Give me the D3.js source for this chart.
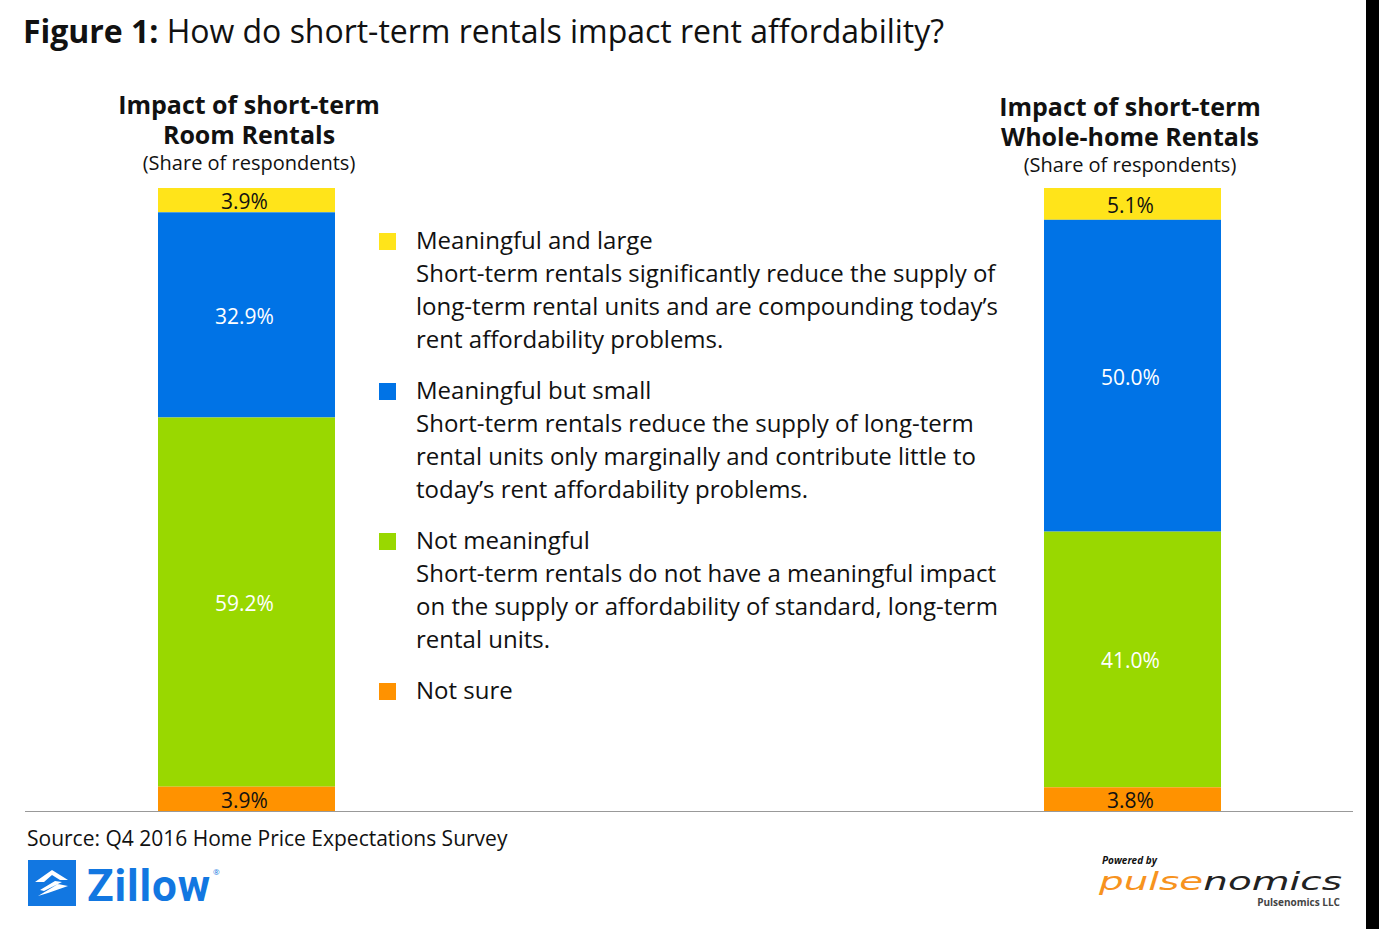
<!DOCTYPE html>
<html><head><meta charset="utf-8">
<script src="https://cdn.jsdelivr.net/npm/d3@7"></script>
<style>body{margin:0;background:#fff}svg{font-family:"Open Sans",sans-serif}</style>
</head><body><div id="chart"></div>
<script>
// data
var categories = ["Meaningful and large", "Meaningful but small", "Not meaningful", "Not sure"]
var colors = ["#FFE41A", "#0073E6", "#99D800", "#FF9200"]
var roomValues = [3.9, 32.9, 59.2, 3.9]
var wholeValues = [5.1, 50.0, 41.0, 3.8]
var descriptions = [
  ["Short-term rentals significantly reduce the supply of", "long-term rental units and are compounding today\u2019s", "rent affordability problems."],
  ["Short-term rentals reduce the supply of long-term", "rental units only marginally and contribute little to", "today\u2019s rent affordability problems."],
  ["Short-term rentals do not have a meaningful impact", "on the supply or affordability of standard, long-term", "rental units."],
  []
]

var width = 1379, height = 929
var svg = d3.select("#chart").append("svg").attr("width", width).attr("height", height)

// black strip on right edge
svg.append("rect").attr("x", 1366).attr("y", 0).attr("width", 13).attr("height", height).attr("fill", "#000")

// title
var title = svg.append("text").attr("x", 23).attr("y", 43).style("font-size", "32px").attr("fill", "#111")
  .attr("textLength", 921)
title.append("tspan").style("font-weight", "bold").text("Figure 1:")
title.append("tspan").text(" How do short-term rentals impact rent affordability?")

var yScale = d3.scaleLinear().domain([0, 99.9]).range([188, 811])

function drawBar(values, x0, heads, headY, cx) {
  var xScale = d3.scaleLinear().domain([0, 1]).range([x0, x0 + 177])
  var stacked = []
  var acc = 0
  values.forEach(function(v, i) { stacked.push({v: v, y0: acc, y1: acc + v, i: i}); acc += v })
  var g = svg.append("g")
  g.selectAll("rect").data(stacked).enter().append("rect")
    .attr("x", xScale(0)).attr("width", xScale(1) - xScale(0))
    .attr("y", d => yScale(d.y0)).attr("height", d => yScale(d.y1) - yScale(d.y0))
    .attr("fill", d => colors[d.i])
  g.selectAll("text").data(stacked).enter().append("text")
    .attr("x", xScale(0.5) - 2).attr("y", d => (yScale(d.y0) + yScale(d.y1)) / 2 + 9)
    .attr("text-anchor", "middle").style("font-size", "21px")
    .attr("fill", d => (d.i == 1 || d.i == 2) ? "#fff" : "#111")
    .text(d => d.v.toFixed(1) + "%")
  heads.forEach(function(h, i) {
    svg.append("text").attr("x", cx).attr("y", headY + i * 30).attr("text-anchor", "middle")
      .style("font-size", "25px").style("font-weight", "bold").attr("fill", "#111").text(h)
  })
  svg.append("text").attr("x", cx).attr("y", headY + 56).attr("text-anchor", "middle")
    .style("font-size", "20px").attr("fill", "#111").text("(Share of respondents)")
}
drawBar(roomValues, 158, ["Impact of short-term", "Room Rentals"], 114, 249)
drawBar(wholeValues, 1044, ["Impact of short-term", "Whole-home Rentals"], 116, 1130)

// legend
var leg = svg.append("g")
categories.forEach(function(c, i) {
  var y = 241 + i * 150
  leg.append("rect").attr("x", 379).attr("y", y - 8).attr("width", 17).attr("height", 17).attr("fill", colors[i])
  leg.append("text").attr("x", 416).attr("y", y + 8).style("font-size", "24px").attr("fill", "#111").text(c)
  descriptions[i].forEach(function(t, j) {
    leg.append("text").attr("x", 416).attr("y", y + 41 + j * 33).style("font-size", "24px").attr("fill", "#111").text(t)
  })
})

// baseline
svg.append("line").attr("x1", 25).attr("x2", 1353).attr("y1", 811.5).attr("y2", 811.5).attr("stroke", "#999").attr("stroke-width", 1)

// source
svg.append("text").attr("x", 27).attr("y", 846).style("font-size", "21px").attr("fill", "#111")
  .text("Source: Q4 2016 Home Price Expectations Survey")

// zillow logo
svg.append("rect").attr("x", 28).attr("y", 860).attr("width", 48).attr("height", 46).attr("fill", "#1277E1")
svg.append("path").attr("d", "M35,882 L52,870 L68,880 L60,880 L52,875 L44,882 Z M38,896 L58,884 L68,886 L48,893 Z M40,890 L55,881 L62,882 L44,891 Z")
  .attr("fill", "#fff")
svg.append("text").attr("x", 87).attr("y", 901).style("font-size", "44px").style("font-weight", "bold")
  .style("font-family", "Roboto, sans-serif").attr("fill", "#1277E1").attr("textLength", 123).text("Zillow")
svg.append("text").attr("x", 213).attr("y", 875).style("font-size", "8px").attr("fill", "#1277E1").text("®")

// pulsenomics logo
svg.append("text").attr("x", 1102).attr("y", 864).style("font-size", "10px").style("font-weight", "bold")
  .style("font-style", "italic").attr("fill", "#111").text("Powered by")
var p = svg.append("text").attr("x", 1099).attr("y", 890).style("font-size", "25px").style("font-style", "italic")
  .style("font-family", "'DejaVu Sans', sans-serif")
  .attr("textLength", 243).attr("lengthAdjust", "spacingAndGlyphs")
p.append("tspan").attr("fill", "#F7931E").text("pulse")
p.append("tspan").attr("fill", "#222").text("nomics")
svg.append("text").attr("x", 1340).attr("y", 906).attr("text-anchor", "end").style("font-size", "10px")
  .style("font-weight", "bold").attr("fill", "#444").text("Pulsenomics LLC")
</script></body></html>
